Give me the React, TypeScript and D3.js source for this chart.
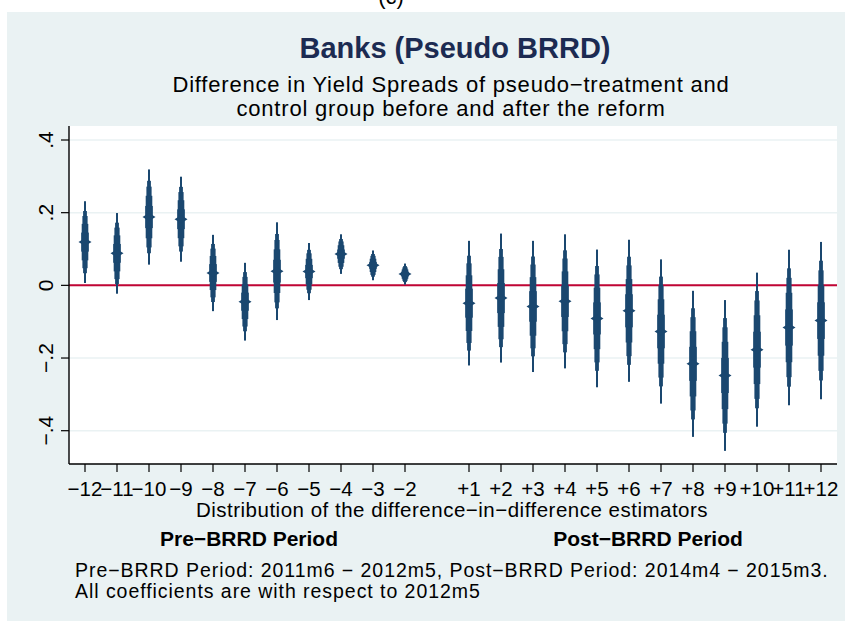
import * as d3 from 'd3';
import React from 'react';

// event-time labels, coefficient and 99% bounds
const periods = ['−12', '−11', '−10', '−9', '−8', '−7', '−6', '−5', '−4', '−3', '−2',
	'+1', '+2', '+3', '+4', '+5', '+6', '+7', '+8', '+9', '+10', '+11', '+12'];
const positions = [1, 2, 3, 4, 5, 6, 7, 8, 9, 10, 11, 13, 14, 15, 16, 17, 18, 19, 20, 21, 22, 23, 24];
const coef = [0.119, 0.088, 0.188, 0.182, 0.034, -0.045, 0.039, 0.038, 0.086, 0.055, 0.031,
	-0.049, -0.035, -0.058, -0.044, -0.091, -0.070, -0.127, -0.216, -0.248, -0.177, -0.116, -0.097];
const hi99 = [0.231, 0.199, 0.319, 0.298, 0.139, 0.062, 0.173, 0.116, 0.140, 0.096, 0.060,
	0.122, 0.142, 0.122, 0.139, 0.098, 0.124, 0.071, -0.015, -0.041, 0.034, 0.098, 0.118];
const lo99 = [0.006, -0.023, 0.057, 0.064, -0.071, -0.152, -0.096, -0.041, 0.031, 0.014, 0.002,
	-0.221, -0.213, -0.239, -0.230, -0.281, -0.267, -0.326, -0.417, -0.456, -0.390, -0.330, -0.315];
const yTicks = [0.4, 0.2, 0, -0.2, -0.4];
const yTickLabels = ['.4', '.2', '0', '−.2', '−.4'];

// smoothed CI bands: z-value and bar width
const bands = [
	{ z: 2.576, w: 2 },
	{ z: 1.96, w: 3.8 },
	{ z: 1.645, w: 5.2 },
	{ z: 1.15, w: 6.6 },
	{ z: 0.6, w: 7.6 },
];

const W = 845;
const H = 621;
const plot = { left: 69, right: 837, top: 126, bottom: 464 };
const navy = '#1a476f';
const font = 'Liberation Sans, Arial, Helvetica, sans-serif';

export default function App() {
	const x = d3.scaleLinear().domain([1, 24]).range([85, 821]);
	const y = d3.scaleLinear().domain([0.4, -0.4]).range([140, 430.7]);

	const rows = periods.map((p, i) => ({
		label: p,
		pos: positions[i],
		b: coef[i],
		se: (hi99[i] - lo99[i]) / (2 * 2.576),
	}));

	return (
		<svg width={W} height={H} style={{ position: 'absolute', left: 0, top: 0, display: 'block' }}
			fontFamily={font}>
			<rect x={0} y={0} width={W} height={H} fill="#ffffff" />
			<text x={391} y={4} fontSize={22} textAnchor="middle" fill="#000">(c)</text>
			<rect x={7} y={12} width={W - 7} height={H - 12} fill="#eaf2f3" />
			<rect x={plot.left} y={plot.top} width={plot.right - plot.left} height={plot.bottom - plot.top} fill="#ffffff" />

			<text x={455} y={58} fontSize={29} fontWeight="bold" textAnchor="middle" fill="#1c2b52">
				Banks (Pseudo BRRD)
			</text>
			<text x={451} y={92} fontSize={22} letterSpacing={0.8} textAnchor="middle" fill="#000">
				Difference in Yield Spreads of pseudo−treatment and
			</text>
			<text x={451} y={116} fontSize={22} letterSpacing={0.8} textAnchor="middle" fill="#000">
				control group before and after the reform
			</text>

			{/* grid */}
			{yTicks.map(t => (
				<line key={'g' + t} x1={plot.left} x2={plot.right} y1={y(t)} y2={y(t)} stroke="#eaf2f3" strokeWidth={1.6} />
			))}
			<line x1={plot.left} x2={plot.right} y1={y(0)} y2={y(0)} stroke="#c10534" strokeWidth={2} />

			{/* smoothed CIs */}
			{rows.map(r => (
				<g key={r.label}>
					{bands.map((bd, j) => (
						<rect key={j} x={x(r.pos) - bd.w / 2} y={y(r.b + bd.z * r.se)} width={bd.w}
							height={y(r.b - bd.z * r.se) - y(r.b + bd.z * r.se)} fill={navy} />
					))}
					<path d={`M${x(r.pos) - 6.5},${y(r.b)} L${x(r.pos)},${y(r.b) - 4} L${x(r.pos) + 6.5},${y(r.b)} L${x(r.pos)},${y(r.b) + 4} Z`}
						fill={navy} />
				</g>
			))}

			{/* axes */}
			<line x1={plot.left} x2={plot.left} y1={plot.top} y2={plot.bottom} stroke="#000" strokeWidth={1.4} />
			<line x1={plot.left} x2={plot.right} y1={plot.bottom} y2={plot.bottom} stroke="#000" strokeWidth={1.4} />
			{yTicks.map((t, i) => (
				<g key={'y' + t}>
					<line x1={plot.left - 8} x2={plot.left} y1={y(t)} y2={y(t)} stroke="#000" strokeWidth={1.2} />
					<text transform={`translate(53,${y(t)}) rotate(-90)`} fontSize={21} textAnchor="middle" fill="#000">
						{yTickLabels[i]}
					</text>
				</g>
			))}
			{rows.map(r => (
				<g key={'x' + r.label}>
					<line x1={x(r.pos)} x2={x(r.pos)} y1={plot.bottom} y2={plot.bottom + 8} stroke="#000" strokeWidth={1.2} />
					<text x={x(r.pos)} y={496} fontSize={20.5} textAnchor="middle" fill="#000">{r.label}</text>
				</g>
			))}

			<text x={452} y={517} fontSize={20.5} letterSpacing={0.5} textAnchor="middle" fill="#000">
				Distribution of the difference−in−difference estimators
			</text>
			<text x={249} y={546} fontSize={21} fontWeight="bold" textAnchor="middle" fill="#000">Pre−BRRD Period</text>
			<text x={648} y={546} fontSize={21} fontWeight="bold" textAnchor="middle" fill="#000">Post−BRRD Period</text>

			<text x={75} y={577} fontSize={19.5} letterSpacing={0.95} fill="#000">
				Pre−BRRD Period: 2011m6 − 2012m5, Post−BRRD Period: 2014m4 − 2015m3.
			</text>
			<text x={75} y={598} fontSize={19.5} letterSpacing={0.95} fill="#000">All coefficients are with respect to 2012m5</text>
		</svg>
	);
}
